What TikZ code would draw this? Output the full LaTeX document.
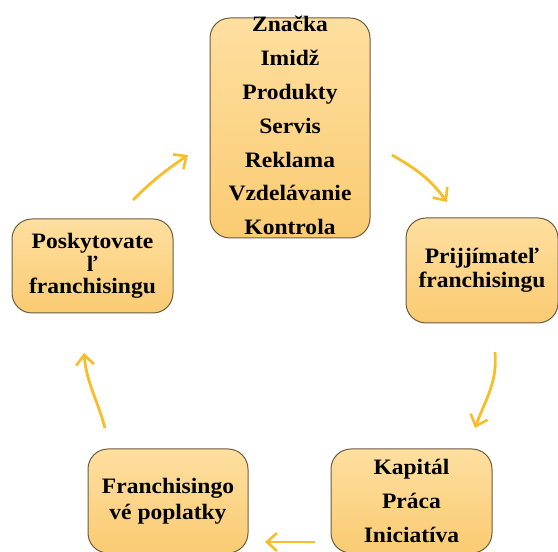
\documentclass[tikz,border=0pt]{standalone}
\usepackage{fontspec}
\setmainfont{Liberation Serif}[FakeStretch=1.07]
\usepackage{tikz}
\usetikzlibrary{arrows.meta}

\definecolor{boxtop}{HTML}{FEDFA0}
\definecolor{boxbottom}{HTML}{FACB72}
\definecolor{boxline}{HTML}{6B5C40}
\definecolor{arrowyellow}{HTML}{F7BE2A}

\begin{document}
\begin{tikzpicture}[
        x=1pt, y=1pt,
        box/.style={draw=boxline, line width=1pt, rounded corners=20pt,
            top color=boxtop, bottom color=boxbottom,
            align=center, font=\bfseries\fontsize{22}{22.5}\selectfont},
        item/.style={anchor=base, font=\bfseries\fontsize{22}{22}\selectfont},
        flow/.style={arrowyellow, line width=2.8pt,
            -{Straight Barb[length=10pt, width=18pt, line width=2.6pt]}}
    ]
        \useasboundingbox (0,0) rectangle (558,552);

        % Boxes
        \node[box, minimum width=160pt, minimum height=220pt] (top) at (290,424) {};
        \foreach \w [count=\i] in {Značka, Imidž, Produkty, Servis, Reklama, Vzdelávanie, Kontrola}
            \node[item] (top\i) at (290, 520-33.8*\i+33.8) {\w};

        \node[box, minimum width=161pt, minimum height=94pt] (giver) at (92.5,286)
            {Poskytovate\\ľ\\franchisingu};
        \node[box, minimum width=152pt, minimum height=105pt,
            font=\bfseries\fontsize{22}{24}\selectfont] (taker) at (482,281.5)
            {Prijjímateľ\\franchisingu};
        \node[box, minimum width=161pt, minimum height=104pt,
            font=\bfseries\fontsize{22}{34}\selectfont] (input) at (411.5,51)
            {Kapitál\\Práca\\Iniciatíva};
        \node[box, minimum width=160pt, minimum height=104pt,
            font=\bfseries\fontsize{22}{26}\selectfont] (fees) at (168,51)
            {Franchisingo\\vé poplatky};

        % Arrows
        \coordinate (a1) at (392,397);
        \coordinate (b1) at (447,350);
        \coordinate (a2) at (495,200);
        \coordinate (b2) at (475,124);
        \coordinate (a3) at (315,10);
        \coordinate (b3) at (265,10);
        \coordinate (a4) at (105,124);
        \coordinate (b4) at (84,199);
        \coordinate (a5) at (133,352);
        \coordinate (b5) at (188,397);

        \draw[flow] (a1) to[out=-30, in=126] (b1);
        \draw[flow] (a2) to[out=-85, in=70] (b2);
        \draw[flow] (a3) -- (b3);
        \draw[flow] (a4) to[out=105, in=-85] (b4);
        \draw[flow] (a5) to[out=45, in=-145] (b5);
\end{tikzpicture}
\end{document}
